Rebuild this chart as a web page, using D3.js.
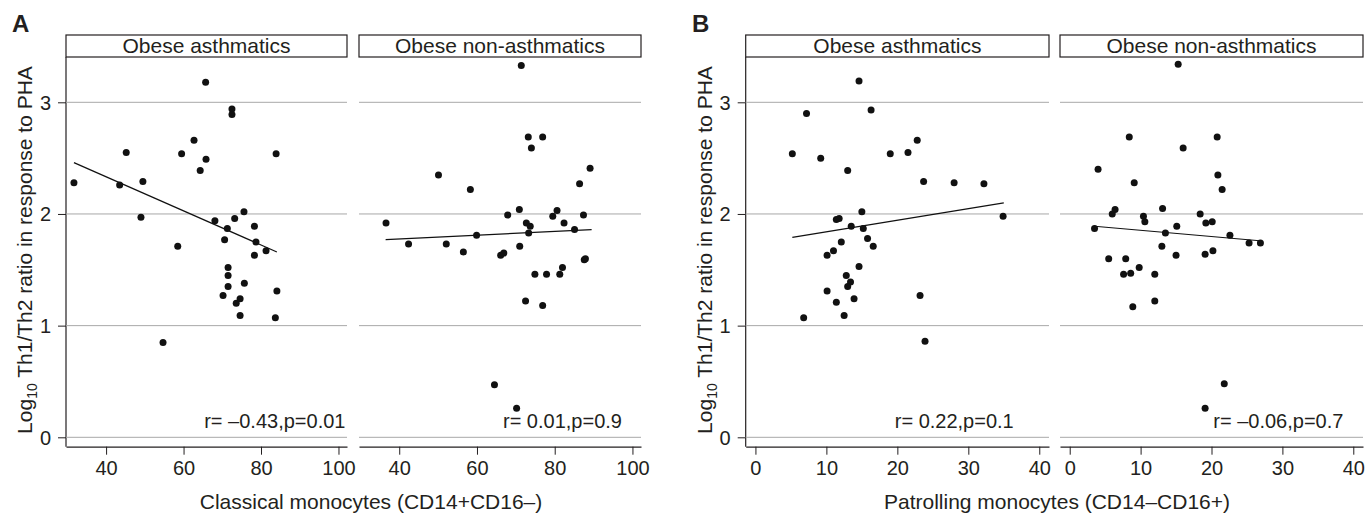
<!DOCTYPE html>
<html>
<head>
<meta charset="utf-8">
<script src="https://cdn.jsdelivr.net/npm/d3@7"></script>
<style>
  body { margin: 0; background: #fff; }
  svg { display: block; font-family: "Liberation Sans", Arial, sans-serif; }
  .tick text { fill: #231f20; }
</style>
</head>
<body>
<div id="chart"></div>
<script>
// Data: [x, log10 Th1/Th2]
const classicalAsthmatics = [
  [31.7,2.28],[43.5,2.26],[45.2,2.55],[49.5,2.29],[49.0,1.97],[59.5,2.54],[58.5,1.71],
  [62.7,2.66],[65.7,3.18],[65.8,2.49],[64.3,2.39],[72.5,2.94],[72.5,2.89],[83.9,2.54],
  [75.6,2.02],[68.1,1.94],[73.2,1.96],[71.3,1.87],[78.3,1.89],[70.6,1.77],[78.7,1.75],
  [81.3,1.67],[78.3,1.63],[71.5,1.52],[71.5,1.45],[71.5,1.35],[75.7,1.38],[70.2,1.27],
  [73.6,1.20],[74.6,1.24],[74.6,1.09],[84.1,1.31],[83.7,1.07],[54.7,0.85]
];
const classicalNonAsthmatics = [
  [71.4,3.33],[73.2,2.69],[76.9,2.69],[74.0,2.59],[50.1,2.35],[89.1,2.41],[86.4,2.27],
  [58.3,2.22],[36.6,1.92],[67.9,1.99],[70.9,2.04],[80.6,2.03],[79.5,1.98],[87.4,1.99],
  [72.7,1.92],[73.7,1.89],[73.3,1.83],[82.4,1.92],[85.1,1.86],[59.9,1.81],[42.4,1.73],
  [52.1,1.73],[56.5,1.66],[71.0,1.71],[66.1,1.63],[66.9,1.65],[87.6,1.59],[87.9,1.60],
  [82.0,1.52],[74.9,1.46],[77.9,1.46],[81.3,1.46],[72.5,1.22],[76.9,1.18],[64.5,0.47],
  [70.2,0.26]
];
const patrollingAsthmatics = [
  [5.2,2.54],[7.2,2.90],[9.2,2.50],[13.0,2.39],[14.6,3.19],[16.3,2.93],[19.0,2.54],
  [21.5,2.55],[22.8,2.66],[23.7,2.29],[28.0,2.28],[32.2,2.27],[34.9,1.98],[15.0,2.02],
  [11.4,1.95],[11.8,1.96],[13.5,1.89],[15.2,1.87],[15.8,1.78],[16.6,1.71],[12.1,1.75],
  [11.0,1.67],[10.1,1.63],[14.6,1.53],[12.8,1.45],[13.4,1.39],[13.0,1.35],[10.1,1.31],
  [13.9,1.24],[11.4,1.21],[6.8,1.07],[12.5,1.09],[23.2,1.27],[23.9,0.86]
];
const patrollingNonAsthmatics = [
  [15.3,3.34],[8.4,2.69],[20.8,2.69],[16.0,2.59],[4.0,2.40],[20.9,2.35],[9.1,2.28],
  [21.5,2.22],[3.5,1.87],[6.0,2.00],[6.4,2.04],[10.4,1.98],[10.6,1.93],[13.1,2.05],
  [18.4,2.00],[19.2,1.92],[20.1,1.93],[15.1,1.89],[13.5,1.83],[22.6,1.81],[25.3,1.74],
  [26.9,1.74],[13.0,1.71],[15.0,1.63],[19.1,1.64],[20.2,1.67],[5.5,1.60],[7.9,1.60],
  [7.6,1.46],[8.6,1.47],[9.8,1.52],[12.0,1.46],[8.9,1.17],[12.0,1.22],[21.8,0.48],
  [19.1,0.26]
];

// fitted lines (end points)
const fitClassicalAsth = [[31.7,2.46],[84.1,1.66]];
const fitClassicalNon = [[36.5,1.77],[89.5,1.86]];
const fitPatrollingAsth = [[5.2,1.79],[35.0,2.10]];
const fitPatrollingNon = [[3.5,1.89],[26.8,1.76]];

const groups = ["Obese asthmatics", "Obese non-asthmatics"];
const statLabels = ["r= \u20130.43,p=0.01", "r= 0.01,p=0.9", "r= 0.22,p=0.1", "r= \u20130.06,p=0.7"];
const yTicks = [0, 1, 2, 3];
const classicalTicks = [40, 60, 80, 100];
const patrollingTicks = [0, 10, 20, 30, 40];

const W = 1369, H = 514;
const plotTop = 57, plotBottom = 446.7, stripTop = 35;

const svg = d3.select("#chart").append("svg")
  .attr("width", W).attr("height", H);

const y = d3.scaleLinear().domain([3, 0]).range([102.3, 437.3]);

const figures = [
  {
    letter: "A", ox: 0,
    xTitle: "Classical monocytes (CD14+CD16\u2013)", xTitleX: 371,
    domain: [29.65, 102.2], ticks: classicalTicks,
    panels: [
      { left: 66, width: 281, pts: classicalAsthmatics, fit: fitClassicalAsth, label: statLabels[0], labelX: 101.8 },
      { left: 359, width: 282, pts: classicalNonAsthmatics, fit: fitClassicalNon, label: statLabels[1], labelX: 97.3 }
    ]
  },
  {
    letter: "B", ox: 680,
    xTitle: "Patrolling monocytes (CD14\u2013CD16+)", xTitleX: 377,
    domain: [-1.37, 41.37], ticks: patrollingTicks,
    panels: [
      { left: 65.7, width: 303.3, pts: patrollingAsthmatics, fit: fitPatrollingAsth, label: statLabels[2], labelX: 36.4 },
      { left: 380, width: 303, pts: patrollingNonAsthmatics, fit: fitPatrollingNon, label: statLabels[3], labelX: 38.6 }
    ]
  }
];

figures.forEach(fig => {
  const g = svg.append("g").attr("transform", "translate(" + fig.ox + ",0)");

  // panel letter
  g.append("text")
    .attr("x", 12).attr("y", 32)
    .attr("font-size", 24).attr("font-weight", "bold")
    .attr("fill", "#231f20")
    .text(fig.letter);

  // y axis
  const first = fig.panels[0].left;
  const yAxis = g.append("g")
    .attr("transform", "translate(" + first + ",0)")
    .call(d3.axisLeft(y).tickValues(yTicks).tickSize(8).tickSizeOuter(0).tickFormat(d3.format("d")));
  yAxis.select(".domain").attr("d", "M0," + plotTop + "V" + plotBottom).attr("stroke", "#231f20").attr("stroke-width", 1.2);
  yAxis.selectAll(".tick line").attr("stroke", "#231f20");
  yAxis.selectAll(".tick text").attr("font-size", 20).attr("x", -15).attr("dy", "0.35em");

  // y title
  const yt = g.append("text")
    .attr("transform", "translate(32,250) rotate(-90)")
    .attr("text-anchor", "middle")
    .attr("font-size", 21)
    .attr("fill", "#231f20");
  yt.append("tspan").text("Log");
  yt.append("tspan").attr("font-size", 14).attr("dy", 5).text("10");
  yt.append("tspan").attr("dy", -5).text(" Th1/Th2 ratio in response to PHA");

  fig.panels.forEach((p, i) => {
    const x = d3.scaleLinear().domain(fig.domain).range([0, p.width]);
    const pg = g.append("g").attr("transform", "translate(" + p.left + ",0)");

    // strip
    pg.append("rect")
      .attr("x", 0).attr("y", stripTop)
      .attr("width", p.width).attr("height", plotTop - stripTop)
      .attr("fill", "#fff").attr("stroke", "#231f20").attr("stroke-width", 1.2);
    pg.append("text")
      .attr("x", p.width / 2).attr("y", 53)
      .attr("text-anchor", "middle").attr("font-size", 21)
      .attr("fill", "#231f20")
      .text(groups[i]);

    // grid
    pg.selectAll(".grid").data(yTicks).join("line")
      .attr("x1", 0).attr("x2", p.width)
      .attr("y1", d => y(d)).attr("y2", d => y(d))
      .attr("stroke", "#a8a8a8").attr("stroke-width", 1);

    // x axis
    const xAxis = pg.append("g")
      .attr("transform", "translate(0," + plotBottom + ")")
      .call(d3.axisBottom(x).tickValues(fig.ticks).tickSize(8).tickSizeOuter(0));
    xAxis.select(".domain").attr("stroke", "#231f20").attr("stroke-width", 1.2);
    xAxis.selectAll(".tick line").attr("stroke", "#231f20");
    xAxis.selectAll(".tick text").attr("font-size", 20).attr("y", 14);

    // fit line
    pg.append("line")
      .attr("x1", x(p.fit[0][0])).attr("y1", y(p.fit[0][1]))
      .attr("x2", x(p.fit[1][0])).attr("y2", y(p.fit[1][1]))
      .attr("stroke", "#111").attr("stroke-width", 1.2);

    // points
    pg.selectAll("circle").data(p.pts).join("circle")
      .attr("cx", d => x(d[0])).attr("cy", d => y(d[1]))
      .attr("r", 3.5).attr("fill", "#111");

    // correlation label
    pg.append("text")
      .attr("x", x(p.labelX)).attr("y", 428)
      .attr("text-anchor", "end").attr("font-size", 20)
      .attr("fill", "#231f20")
      .text(p.label);
  });

  // x title
  g.append("text")
    .attr("x", fig.xTitleX).attr("y", 509)
    .attr("text-anchor", "middle").attr("font-size", 21)
    .attr("fill", "#231f20")
    .text(fig.xTitle);
});
</script>
</body>
</html>
